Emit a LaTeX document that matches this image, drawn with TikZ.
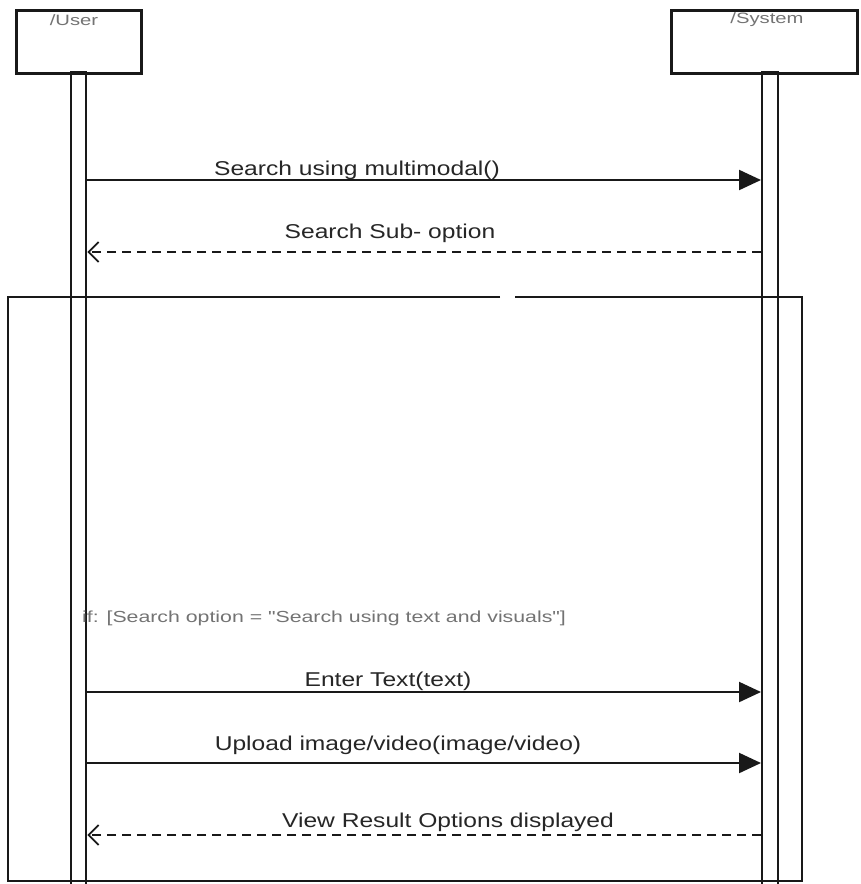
\documentclass[tikz,border=0pt]{standalone}
\usepackage{fontspec}
\setmainfont{Liberation Sans}
\newfontfamily\msgfont[FakeStretch=1.23]{Liberation Sans}
\newfontfamily\namefont[FakeStretch=1.35]{Liberation Sans}
\newfontfamily\guardfont[FakeStretch=1.33]{Liberation Sans}
\usetikzlibrary{arrows.meta}
\begin{document}
\begin{tikzpicture}[x=1pt,y=-1pt,
  headbox/.style={draw=black!90,line width=2.8pt,inner sep=0pt,anchor=north west},
  actbar/.style={draw=black!90,line width=2.4pt,inner sep=0pt,anchor=north west},
  frameline/.style={draw=black!90,line width=2.5pt},
  call/.style={draw=black!90,line width=2.2pt,-{Triangle[length=22pt,width=20pt]}},
  reply/.style={draw=black!90,line width=2.2pt,dash pattern=on 9pt off 6pt,-{Straight Barb[length=10pt,width=20pt,line width=1.8pt]}},
  msglabel/.style={font=\msgfont\fontsize{20}{24}\selectfont,text=black!85,inner sep=0pt},
  namelabel/.style={font=\namefont\fontsize{15}{18}\selectfont,text=black!55,inner sep=0pt},
  guardlabel/.style={font=\guardfont\fontsize{16}{19}\selectfont,text=black!55,inner sep=0pt,anchor=west}]
\useasboundingbox (0,0) rectangle (860,884);

% combined fragment frame, with a small break in its top edge
\draw[frameline] (500,297) -- (8,297) -- (8,881) -- (802,881) -- (802,297) -- (515,297);

% lifeline heads
\node[headbox,minimum width=125pt,minimum height=63pt] (user) at (15,9) {};
\node[headbox,minimum width=186pt,minimum height=63pt] (sys) at (670,9) {};
\node[namelabel] (userlbl) at (74,20) {/User};
\node[namelabel] (syslbl) at (767,20) {/System};

% activation bars
\node[actbar,minimum width=15pt,minimum height=820pt] (ubar) at (70,71) {};
\node[actbar,minimum width=16pt,minimum height=820pt] (sbar) at (761,71) {};

% message rows
\coordinate (r1) at (0,180);
\coordinate (r2) at (0,252);
\coordinate (r4) at (0,692);
\coordinate (r5) at (0,763);
\coordinate (r6) at (0,835);

\draw[call] (ubar.east |- r1) -- (sbar.west |- r1);
\node[msglabel] (m1) at (357,170) {Search using multimodal()};

\draw[reply] (sbar.west |- r2) -- (ubar.east |- r2);
\node[msglabel] (m2) at (390,233) {Search Sub- option};

\node[guardlabel] (guard) at (82,618) {if: [Search option = "Search using text and visuals"]};

\draw[call] (ubar.east |- r4) -- (sbar.west |- r4);
\node[msglabel] (m4) at (388,681) {Enter Text(text)};

\draw[call] (ubar.east |- r5) -- (sbar.west |- r5);
\node[msglabel] (m5) at (398,745) {Upload image/video(image/video)};

\draw[reply] (sbar.west |- r6) -- (ubar.east |- r6);
\node[msglabel] (m6) at (448,822) {View Result Options displayed};
\end{tikzpicture}
\end{document}
